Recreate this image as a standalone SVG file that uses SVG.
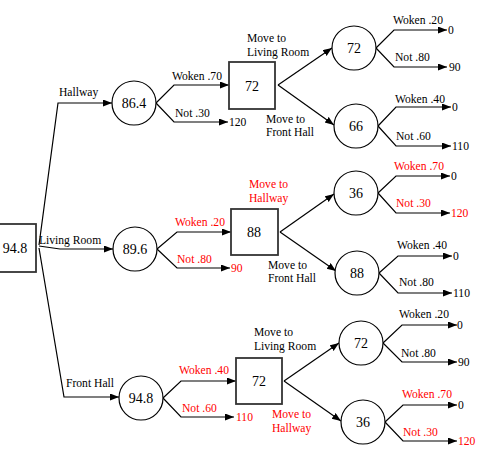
<svg xmlns="http://www.w3.org/2000/svg" width="501" height="460" viewBox="0 0 501 460">
<style>
.n{fill:#fff;stroke:#000;stroke-width:1.2}
.d{fill:#fff;stroke:#333;stroke-width:1.8}
.v{font-family:"Liberation Serif",serif;font-size:14px;text-anchor:middle;fill:#000}
.l{font-family:"Liberation Serif",serif;font-size:11.6px;fill:#000}
.r{fill:#ff0000}
.c{fill:none;stroke:#000;stroke-width:1.2;marker-end:url(#ah)}
</style>
<defs>
<marker id="ah" markerUnits="userSpaceOnUse" markerWidth="10" markerHeight="8" refX="9" refY="3.5" orient="auto">
<path d="M0,0 L9,3.5 L0,7 z" fill="#000"/>
</marker>
</defs>
<rect width="501" height="460" fill="#fff"/>
<g id="connectors">
<path class="c" d="M39,245 L58,103 L112,103"/>
<path class="c" d="M39,246 L60,249 L113,249"/>
<path class="c" d="M39,248 L64,397 L119,397"/>
<path class="c" d="M156,103 L174,85 L229,85"/>
<path class="c" d="M156,103 L174,122 L228,122"/>
<path class="c" d="M278,85 L332,48"/>
<path class="c" d="M278,85 L334,125"/>
<path class="c" d="M376,48 L394,30 L447,30"/>
<path class="c" d="M376,48 L394,67 L447,67"/>
<path class="c" d="M378,126 L396,107 L451,107"/>
<path class="c" d="M378,126 L396,146 L451,146"/>
<path class="c" d="M157,249 L177,232 L231,232"/>
<path class="c" d="M157,249 L177,268 L230,268"/>
<path class="c" d="M280,232 L334,194"/>
<path class="c" d="M280,232 L336,271"/>
<path class="c" d="M378,193 L396,176 L450,176"/>
<path class="c" d="M378,193 L396,213 L450,213"/>
<path class="c" d="M379,273 L398,256 L452,256"/>
<path class="c" d="M379,273 L398,293 L452,293"/>
<path class="c" d="M163,398 L181,381 L236,381"/>
<path class="c" d="M163,398 L181,417 L234,417"/>
<path class="c" d="M284,381 L339,343"/>
<path class="c" d="M284,381 L341,421"/>
<path class="c" d="M383,343 L402,325 L457,325"/>
<path class="c" d="M383,343 L402,362 L457,362"/>
<path class="c" d="M385,422 L403,405 L457,405"/>
<path class="c" d="M385,422 L403,441 L457,441"/>
</g>
<g id="root"><rect class="d" x="-6" y="224" width="42" height="48"/><text class="v" x="15" y="253">94.8</text></g>
<g id="chance-hallway"><circle class="n" cx="134" cy="103" r="22"/><text class="v" x="134" y="108">86.4</text></g>
<g id="chance-living"><circle class="n" cx="135" cy="249" r="22"/><text class="v" x="135" y="254">89.6</text></g>
<g id="chance-front"><circle class="n" cx="141" cy="398" r="22"/><text class="v" x="141" y="403">94.8</text></g>
<g id="decision-1"><rect class="d" x="229" y="62" width="46" height="47"/><text class="v" x="252" y="91">72</text></g>
<g id="decision-2"><rect class="d" x="231" y="209" width="47" height="46"/><text class="v" x="254" y="237">88</text></g>
<g id="decision-3"><rect class="d" x="236" y="358" width="46" height="46"/><text class="v" x="259" y="386">72</text></g>
<g id="c1a"><circle class="n" cx="354" cy="48" r="22"/><text class="v" x="354" y="53">72</text></g>
<g id="c1b"><circle class="n" cx="356" cy="126" r="22"/><text class="v" x="356" y="131">66</text></g>
<g id="c2a"><circle class="n" cx="356" cy="193" r="22"/><text class="v" x="356" y="198">36</text></g>
<g id="c2b"><circle class="n" cx="357" cy="273" r="22"/><text class="v" x="357" y="278">88</text></g>
<g id="c3a"><circle class="n" cx="361" cy="343" r="22"/><text class="v" x="361" y="348">72</text></g>
<g id="c3b"><circle class="n" cx="363" cy="422" r="22"/><text class="v" x="363" y="427">36</text></g>
<g id="labels" class="l">
<text x="59" y="96">Hallway</text>
<text x="39" y="244">Living Room</text>
<text x="66" y="387">Front Hall</text>
<text x="172" y="80">Woken .70</text>
<text x="175" y="117">Not .30</text>
<text x="229" y="126">120</text>
<text x="247" y="42">Move to</text>
<text x="247" y="56">Living Room</text>
<text x="266" y="123">Move to</text>
<text x="266" y="136">Front Hall</text>
<text x="393" y="24">Woken .20</text>
<text x="395" y="61">Not .80</text>
<text x="448" y="34">0</text>
<text x="449" y="71">90</text>
<text x="395" y="103">Woken .40</text>
<text x="396" y="140">Not .60</text>
<text x="452" y="111">0</text>
<text x="452" y="150">110</text>
<text class="r" x="175" y="226">Woken .20</text>
<text class="r" x="177" y="263">Not .80</text>
<text class="r" x="231" y="272">90</text>
<text class="r" x="249" y="188">Move to</text>
<text class="r" x="249" y="202">Hallway</text>
<text x="268" y="269">Move to</text>
<text x="268" y="282">Front Hall</text>
<text class="r" x="394" y="170">Woken .70</text>
<text class="r" x="396" y="207">Not .30</text>
<text x="451" y="180">0</text>
<text class="r" x="451" y="217">120</text>
<text x="397" y="249">Woken .40</text>
<text x="399" y="286">Not .80</text>
<text x="453" y="260">0</text>
<text x="453" y="297">110</text>
<text class="r" x="179" y="374">Woken .40</text>
<text class="r" x="182" y="412">Not .60</text>
<text class="r" x="236" y="421">110</text>
<text x="254" y="336">Move to</text>
<text x="254" y="350">Living Room</text>
<text class="r" x="272" y="418">Move to</text>
<text class="r" x="272" y="432">Hallway</text>
<text x="399" y="318">Woken .20</text>
<text x="401" y="357">Not .80</text>
<text x="457" y="329">0</text>
<text x="458" y="366">90</text>
<text class="r" x="402" y="398">Woken .70</text>
<text class="r" x="403" y="436">Not .30</text>
<text x="458" y="409">0</text>
<text class="r" x="458" y="445">120</text>
</g>
</svg>
